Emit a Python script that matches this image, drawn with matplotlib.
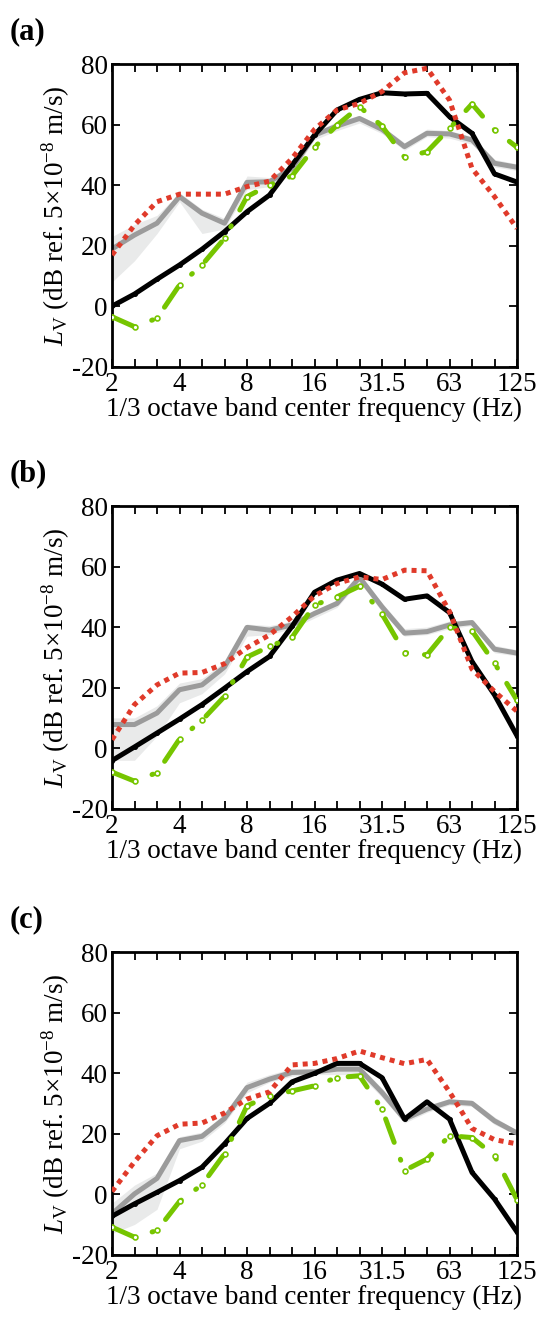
import numpy as np
import matplotlib
matplotlib.use("Agg")
import matplotlib.pyplot as plt

plt.rcParams['font.family'] = ['Liberation Serif', 'DejaVu Serif']
plt.rcParams['mathtext.fontset'] = 'custom'
plt.rcParams['mathtext.rm'] = 'Liberation Serif'
plt.rcParams['mathtext.it'] = 'Liberation Serif:italic'

# 1/3 octave band centres (Hz)
bands = [2, 2.5, 3.15, 4, 5, 6.3, 8, 10, 12.5, 16, 20, 25, 31.5, 40, 50, 63, 80, 100, 125]
tick_labels = ['2', '4', '8', '16', '31.5', '63', '125']

# (a)
a_black = [0, 4, 8.9, 13.6, 18.8, 24.6, 31.2, 36.7, 46.6, 56.5, 64.8, 68.3, 70.5, 70.1, 70.3, 62.6, 57.1, 43.7, 41]
a_gray = [18.9, 23.5, 27.4, 36.2, 30.7, 27.4, 40.9, 41.1, 45.5, 56.5, 59.5, 62, 58.4, 52.7, 57.1, 56.9, 54.9, 47.2, 45.9]
a_lo = [8, 15, 24, 34.5, 24, 25.5, 38.5, 39.5, 44, 55, 58, 60.5, 57, 51.5, 56, 55.5, 53.5, 46, 44.8]
a_hi = [23, 27, 30, 37.5, 32, 29, 43, 42.5, 47, 57.5, 61, 63, 59.5, 54, 58.5, 58, 56, 48.5, 47]
a_red = [16.9, 26.8, 34.5, 37, 37, 37, 39.5, 41.3, 48.8, 58.4, 64.8, 67, 70.9, 77.1, 78.6, 68.1, 45.5, 36.2, 25.7]
a_green = [-3.5, -6.8, -4, 7, 13.6, 22.4, 36.2, 40, 43, 52.5, 59.8, 65.9, 59.5, 49.2, 51, 58.7, 66.8, 58.2, 52.5]

# (b)
b_black = [-4.1, 0.4, 5, 9.6, 14.4, 19.8, 25.3, 30.3, 40.2, 51.5, 55.5, 57.7, 54.2, 49.2, 50.3, 44.8, 28.6, 17.6, 4.1]
b_gray = [7.8, 7.8, 11.6, 19.3, 20.9, 26.8, 39.9, 39, 40.7, 44.5, 47.8, 56.4, 46.7, 38, 38.5, 40.7, 41.5, 32.7, 31.4]
b_lo = [-4, -4, 4, 15, 18, 24.5, 37, 37.5, 39.5, 43, 46.5, 55, 45, 37, 37.5, 39.5, 40.5, 31.5, 30.5]
b_hi = [10, 10, 14, 21.5, 23, 28.5, 41, 40.5, 42, 45.5, 49, 57.5, 48, 39.5, 40, 42, 42.5, 34, 32.5]
b_red = [2.8, 14.4, 20.9, 24.8, 25, 27.9, 33.2, 37.4, 43.4, 50.3, 54.4, 56.6, 55.7, 58.8, 58.6, 45.1, 26.1, 18.7, 12.2]
b_green = [-7.9, -10.9, -8.1, 3, 9.2, 17.1, 30.1, 33.6, 36.6, 47.3, 50, 53.5, 44.3, 31.6, 30.8, 39.9, 38.8, 28.1, 15.8]

# (c)
c_black = [-7.3, -3.2, 0.6, 4.5, 8.9, 16.6, 25, 30, 37.1, 39.9, 43.2, 43.2, 38.5, 24.8, 30.5, 24.8, 7.2, -1.6, -12.5]
c_gray = [-6.5, 0.1, 5.2, 17.7, 19.1, 25, 35.2, 38, 40.2, 40.4, 41.3, 41.3, 33.6, 24.8, 28.1, 30.5, 30, 24.2, 20.2]
c_lo = [-13, -10, -5, 15, 17.5, 23.5, 33.5, 37, 39, 39.5, 39.5, 39.5, 32, 23.5, 27, 29.5, 29, 23, 19.5]
c_hi = [-3, 3, 7, 19, 20.5, 26.5, 37, 39.5, 41.5, 41.5, 42.5, 42.5, 35, 26, 29.5, 31.5, 31, 25.5, 21]
c_red = [0.9, 10.7, 19.3, 23.1, 23.5, 26.8, 31.4, 33.8, 42.7, 43.2, 44.8, 47.3, 45.1, 43.1, 44.5, 33.8, 21.7, 18, 16.6]
c_green = [-10.9, -14.2, -12, -2.4, 3.1, 13.3, 29.2, 32.5, 34.1, 35.8, 38.5, 39.1, 28.1, 7.8, 11.6, 19.3, 18.7, 12.7, -1.8]

panels = [
    ('(a)', a_black, a_gray, a_lo, a_hi, a_red, a_green),
    ('(b)', b_black, b_gray, b_lo, b_hi, b_red, b_green),
    ('(c)', c_black, c_gray, c_lo, c_hi, c_red, c_green),
]

W, H = 544, 1318
fig = plt.figure(figsize=(W / 100, H / 100), dpi=100)

x = np.arange(len(bands))
tops = [64, 506, 952]
ax_h = 302.7
left, right = 112, 517
fs = 19.5

for (tag, blk, gry, lo, hi, red, grn), top in zip(panels, tops):
    ax = fig.add_axes([left / W, 1 - (top + ax_h) / H, (right - left) / W, ax_h / H])
    ax.fill_between(x, lo, hi, color='#e9eaea', lw=0, zorder=1)
    ax.plot(x, gry, color='#9b9b9b', lw=3.6, zorder=2)
    ax.plot(x, blk, color='black', lw=3.6, marker='.', ms=5, zorder=3)
    # dash-dot with open circles at the band centres
    ax.plot(x, grn, color='#76c500', lw=3.6, dashes=(5, 3.6, 0.2, 3.6),
            dash_capstyle='round', marker='o', ms=3.5, mfc='white', mew=1.2, zorder=4)
    ax.plot(x, red, color='#e03a2a', lw=3.6, dashes=(1.0, 1.0), zorder=5)

    ax.set_xlim(0, len(bands) - 1)
    ax.set_ylim(-20, 80)
    ax.set_xticks(x)
    ax.set_xticklabels([str(b) if str(b) in tick_labels else '' for b in bands])
    ax.set_yticks([-20, 0, 20, 40, 60, 80])
    ax.set_yticklabels(['-20', '0', '20', '40', '60', '80'])
    ax.tick_params(direction='in', top=True, right=True, length=6, width=1.3,
                   labelsize=fs)
    ax.tick_params(axis='y', pad=3)
    ax.tick_params(axis='x', pad=4)
    for s in ax.spines.values():
        s.set_linewidth(2)
    ax.set_xlabel('1/3 octave band center frequency (Hz)', fontsize=fs, labelpad=0)
    ax.set_ylabel(r'$L_\mathrm{V}$ (dB ref. 5×10$^{-8}$ m/s)', fontsize=fs, labelpad=0)
    fig.text(10 / W, 1 - (top - 32) / H, tag, fontsize=22, fontweight='bold',
             va='center', ha='left')

fig.savefig('out.png', dpi=100)
